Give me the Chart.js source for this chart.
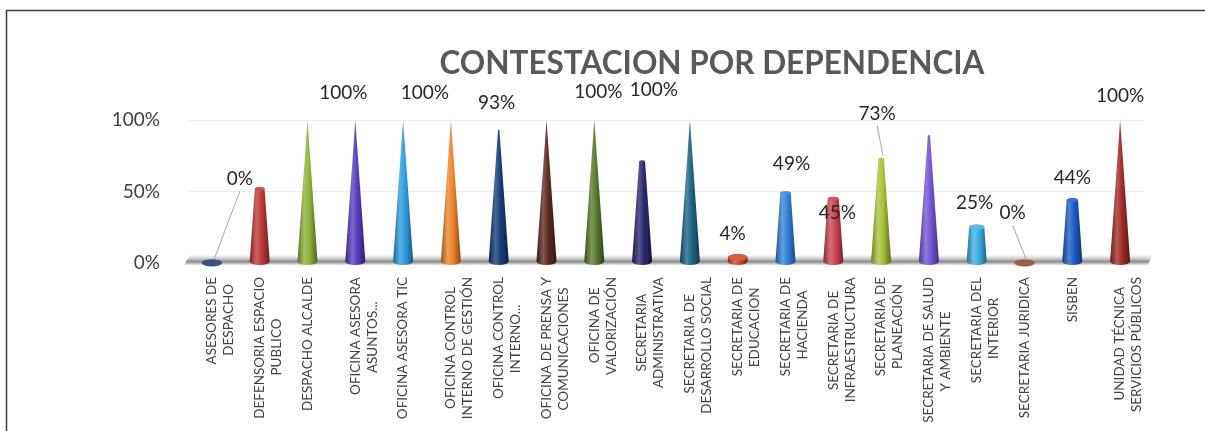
<!DOCTYPE html>
<html>
<head>
<meta charset="utf-8">
<script src="https://cdn.jsdelivr.net/npm/chart.js@4"></script>
<style>
  body { margin: 0; background: #fff; }
  canvas { display: block; }
</style>
</head>
<body>
<canvas id="myChart" width="1205" height="431"></canvas>
<script>
// datos
const categorias = [
  ['ASESORES DE', 'DESPACHO'],
  ['DEFENSORIA ESPACIO', 'PUBLICO'],
  'DESPACHO ALCALDE',
  ['OFICINA ASESORA', 'ASUNTOS...'],
  'OFICINA ASESORA TIC',
  ['OFICINA CONTROL', 'INTERNO DE GESTIÓN'],
  ['OFICINA CONTROL', 'INTERNO...'],
  ['OFICINA DE PRENSA Y', 'COMUNICACIONES'],
  ['OFICINA DE', 'VALORIZACIÓN'],
  ['SECRETARIA', 'ADMINISTRATIVA'],
  ['SECRETARIA DE', 'DESARROLLO SOCIAL'],
  ['SECRETARIA DE', 'EDUCACION'],
  ['SECRETARIA DE', 'HACIENDA'],
  ['SECRETARIA DE', 'INFRAESTRUCTURA'],
  ['SECRETARIA DE', 'PLANEACIÓN'],
  ['SECRETARIA DE SALUD', 'Y AMBIENTE'],
  ['SECRETARIA DEL', 'INTERIOR'],
  'SECRETARIA JURIDICA',
  'SISBEN',
  ['UNIDAD TÉCNICA', 'SERVICIOS PÚBLICOS']
]
const valores = [0, 52, 100, 100, 100, 100, 93, 100, 100, 71, 100, 4, 49, 45, 73, 89, 25, 0, 44, 100]
const ticksY = [0, 50, 100]
// etiquetas de datos que aparecen en el grafico (null = sin etiqueta)
const etiquetas = [
  '0%', null, null, '100%', null, '100%', '93%', null, '100%', null,
  '100%', '4%', '49%', '45%', '73%', null, '25%', '0%', '44%', '100%'
]
const titulo = 'CONTESTACION POR DEPENDENCIA'

// estilo
const colores = [
  '#1f3a6e', '#c03838', '#8fb33a', '#5a3cc0', '#2d9de0', '#f0852a', '#173c7a',
  '#5c2b22', '#58792c', '#2a266e', '#1d6484', '#d0482a', '#3483dc', '#cc4450',
  '#a8c43c', '#7356d6', '#3eb0ea', '#8a4a2a', '#1c5cc8', '#a32a2a'
]
// desplazamiento de cada etiqueta respecto a la punta del cono (px)
const etqDx = [28, 0, 0, -12, 0, -26, -2, 0, 4, 0, -36, -5, 6, 4, -4, 0, -2, -12, 0, 0]
const etqDy = [-84, 0, 0, -27, 0, -27, -27, 0, -28, 0, -30, -23, -29, 14, -45, 0, -24, -50, -22, -24]
const conGuia = [true, false, false, false, false, false, false, false, false, false,
  false, false, false, false, true, false, false, true, false, false]

const fuente = 'Lato, "Open Sans", sans-serif'
const fuenteX = { family: fuente, size: 13.5, lineHeight: 1.25 }

function tono(hex, p) {
  let r = parseInt(hex.slice(1, 3), 16), g = parseInt(hex.slice(3, 5), 16), b = parseInt(hex.slice(5, 7), 16)
  const t = p > 0 ? 255 : 0
  const k = Math.abs(p)
  r = Math.round(r + (t - r) * k); g = Math.round(g + (t - g) * k); b = Math.round(b + (t - b) * k)
  return `rgb(${r},${g},${b})`
}

// centra la linea corta de una etiqueta de dos lineas (como Excel)
const medidor = document.createElement('canvas').getContext('2d')
function centrarLineas(lbl) {
  if (!Array.isArray(lbl)) return lbl
  medidor.font = fuenteX.size + 'px ' + fuente
  const anchos = lbl.map(t => medidor.measureText(t).width)
  const max = Math.max(...anchos)
  const esp = medidor.measureText('\u00A0').width
  return lbl.map((t, i) => t + '\u00A0'.repeat(Math.round((max - anchos[i]) / 2 / esp)))
}

function dibujarCono(ctx, x, yTop, yBase, w, yPunta, color) {
  const H = yBase - yPunta
  const h = yBase - yTop
  const r0 = w / 2
  const r1 = Math.max(r0 * (1 - h / H), 0)
  const ry0 = 3.5
  const ry1 = ry0 * r1 / r0
  const g = ctx.createLinearGradient(x - r0, 0, x + r0, 0)
  g.addColorStop(0, tono(color, -0.35))
  g.addColorStop(0.35, tono(color, 0.22))
  g.addColorStop(0.6, color)
  g.addColorStop(1, tono(color, -0.45))
  ctx.save()
  ctx.fillStyle = g
  ctx.beginPath()
  ctx.moveTo(x - r0, yBase)
  ctx.lineTo(x - r1, yTop)
  if (r1 > 0.2) ctx.ellipse(x, yTop, r1, ry1, 0, Math.PI, Math.PI * 2)
  else ctx.lineTo(x, yTop)
  ctx.lineTo(x + r0, yBase)
  ctx.ellipse(x, yBase, r0, ry0, 0, 0, Math.PI)
  ctx.closePath()
  ctx.fill()
  if (r1 > 1) {
    ctx.fillStyle = tono(color, 0.12)
    ctx.beginPath()
    ctx.ellipse(x, yTop, r1, ry1, 0, 0, Math.PI * 2)
    ctx.fill()
  }
  ctx.restore()
}

const conos = {
  id: 'conos',
  beforeDraw(chart) {
    const ctx = chart.ctx
    // marco del grafico
    ctx.save()
    ctx.strokeStyle = '#3a3a3a'
    ctx.lineWidth = 1.5
    ctx.beginPath()
    ctx.moveTo(6.5, 431)
    ctx.lineTo(6.5, 10.5)
    ctx.lineTo(1205, 10.5)
    ctx.stroke()
    ctx.restore()
  },
  beforeDatasetsDraw(chart) {
    // piso en 3D
    const ctx = chart.ctx
    const a = chart.chartArea
    const g = ctx.createLinearGradient(0, a.bottom - 8, 0, a.bottom + 3)
    g.addColorStop(0, 'rgba(170,170,170,0.05)')
    g.addColorStop(0.6, 'rgba(90,90,90,0.7)')
    g.addColorStop(1, 'rgba(170,170,170,0.1)')
    ctx.save()
    ctx.fillStyle = g
    ctx.beginPath()
    ctx.moveTo(a.left + 2, a.bottom - 8)
    ctx.lineTo(a.right + 8, a.bottom - 8)
    ctx.lineTo(a.right + 4, a.bottom + 2)
    ctx.lineTo(a.left - 4, a.bottom + 2)
    ctx.closePath()
    ctx.fill()
    ctx.restore()
  },
  afterDatasetsDraw(chart) {
    const ctx = chart.ctx
    const meta = chart.getDatasetMeta(0)
    const yPunta = chart.scales.y.getPixelForValue(100)
    meta.data.forEach((el, i) => {
      dibujarCono(ctx, el.x, el.y, el.base - 1, el.width, yPunta, colores[i])
    })
    // etiquetas de datos
    ctx.save()
    ctx.font = '19px ' + fuente
    ctx.fillStyle = '#262626'
    ctx.textAlign = 'center'
    ctx.textBaseline = 'middle'
    meta.data.forEach((el, i) => {
      if (etiquetas[i] == null) return
      const lx = el.x + etqDx[i]
      const ly = el.y + etqDy[i]
      if (conGuia[i]) {
        ctx.strokeStyle = '#a6a6a6'
        ctx.lineWidth = 1
        ctx.beginPath()
        ctx.moveTo(lx, ly + 12)
        ctx.lineTo(el.x + 2, el.y - 3)
        ctx.stroke()
      }
      ctx.fillText(etiquetas[i], lx, ly)
    })
    ctx.restore()
  },
  afterDraw(chart) {
    // titulo
    const ctx = chart.ctx
    ctx.save()
    ctx.font = 'bold 30px ' + fuente
    const w = ctx.measureText(titulo).width
    const size = 30 * 545 / w
    ctx.font = 'bold ' + size.toFixed(1) + 'px ' + fuente
    ctx.fillStyle = '#595959'
    ctx.textAlign = 'center'
    ctx.textBaseline = 'middle'
    ctx.fillText(titulo, 712, 64)
    ctx.restore()
  }
}

const ctx = document.getElementById('myChart')

new Chart(ctx, {
  type: 'bar',
  data: {
    labels: categorias.map(centrarLineas),
    datasets: [{
      data: valores,
      backgroundColor: 'rgba(0,0,0,0)',
      barPercentage: 0.42,
      categoryPercentage: 1
    }]
  },
  options: {
    responsive: false,
    animation: false,
    layout: { padding: { top: 120, right: 61, left: 0, bottom: 0 } },
    plugins: { legend: { display: false }, tooltip: { enabled: false } },
    scales: {
      x: {
        grid: { display: false },
        border: { display: false },
        ticks: {
          autoSkip: false, maxRotation: 90, minRotation: 90, padding: 6,
          color: '#404040', font: fuenteX
        },
        afterFit: (s) => { s.height = 168 }
      },
      y: {
        min: 0, max: 100,
        afterBuildTicks: (s) => { s.ticks = ticksY.map(v => ({ value: v })) },
        grid: { color: 'rgba(0,0,0,0.07)', drawTicks: false },
        border: { display: false },
        ticks: {
          padding: 28, color: '#404040',
          font: { family: fuente, size: 19 },
          callback: (v) => v + '%'
        },
        afterFit: (s) => { s.width = 188 }
      }
    }
  },
  plugins: [conos]
})
</script>
</body>
</html>
